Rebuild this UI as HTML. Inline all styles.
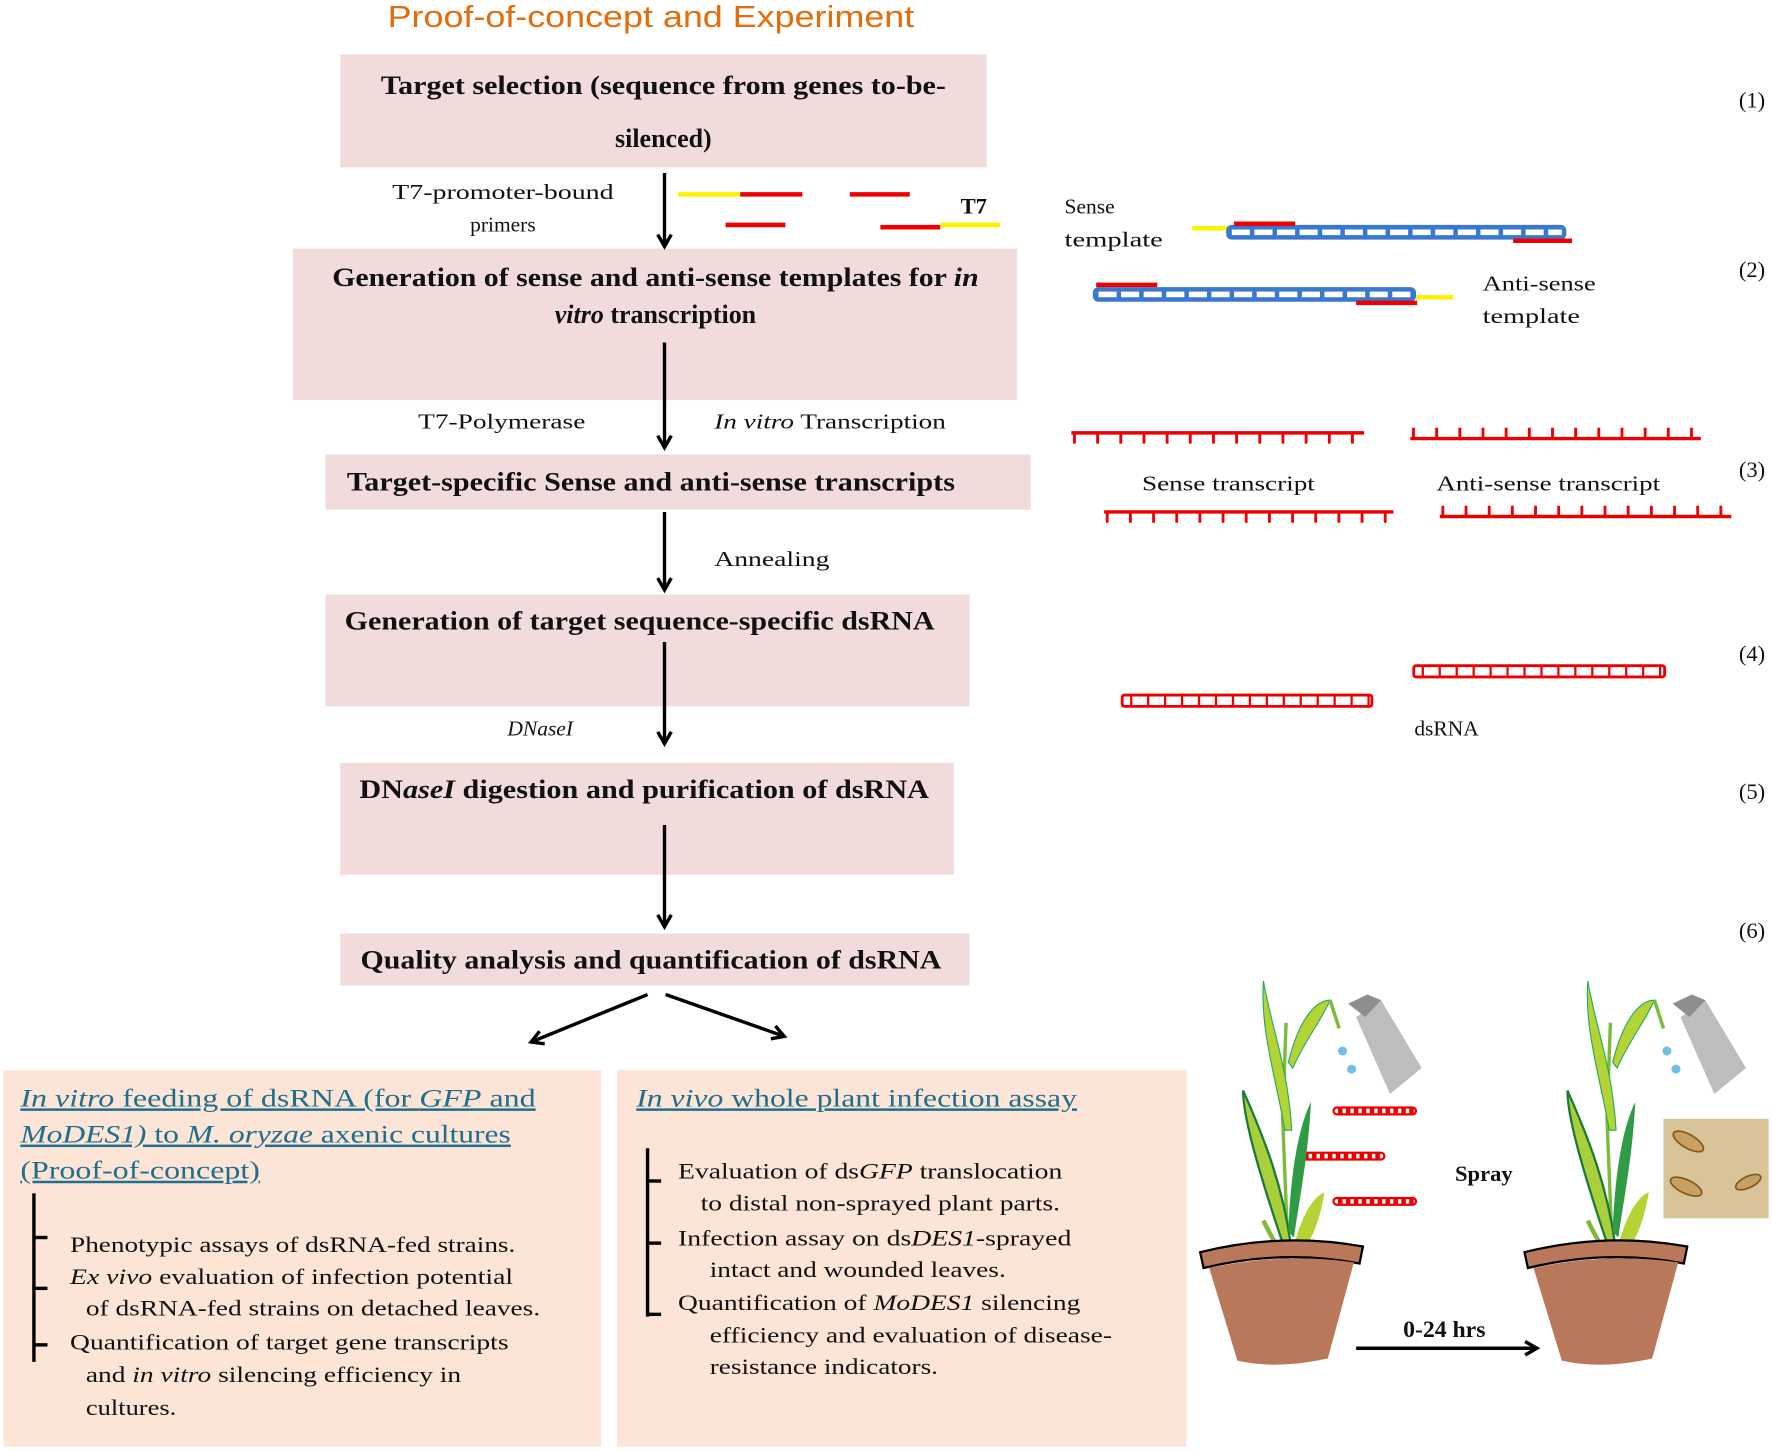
<!DOCTYPE html>
<html><head><meta charset="utf-8"><style>
html,body{margin:0;padding:0;background:#fff;}
svg{display:block;}
.s{font-family:"Liberation Serif",serif;}
.b{font-weight:bold;}
</style></head><body>
<svg width="1772" height="1450" viewBox="0 0 1568 1283" xmlns="http://www.w3.org/2000/svg">
<defs>
<marker id="ah" viewBox="0 0 10 10" refX="8" refY="5" markerWidth="5" markerHeight="5" orient="auto"><path d="M1,1 L8,5 L1,9" fill="none" stroke="#000" stroke-width="2"/></marker>
</defs>
<rect width="1568" height="1283" fill="#fff"/>
<text x="576" y="24" text-anchor="middle" font-family="Liberation Sans,sans-serif" font-size="27" fill="#E46C0A" textLength="466" lengthAdjust="spacingAndGlyphs">Proof-of-concept and Experiment</text>

<!-- boxes -->
<g fill="#F2DCDB">
<rect x="301" y="48" width="572" height="100"/>
<rect x="259" y="220" width="641" height="134"/>
<rect x="288" y="402" width="624" height="49"/>
<rect x="288" y="526" width="570" height="99"/>
<rect x="301" y="675" width="543" height="99"/>
<rect x="301" y="826" width="557" height="46"/>
</g>
<g class="s b" font-size="23" fill="#111" text-anchor="middle">
<text x="587" y="83" textLength="500" lengthAdjust="spacingAndGlyphs">Target selection (sequence from genes to-be-</text>
<text x="587" y="130">silenced)</text>
<text x="580" y="253" textLength="572" lengthAdjust="spacingAndGlyphs">Generation of sense and anti-sense templates for <tspan font-style="italic">in</tspan></text>
<text x="580" y="286"><tspan font-style="italic">vitro</tspan> transcription</text>
<text x="576" y="434" textLength="538" lengthAdjust="spacingAndGlyphs">Target-specific Sense and anti-sense transcripts</text>
<text x="566" y="557" textLength="522" lengthAdjust="spacingAndGlyphs">Generation of target sequence-specific dsRNA</text>
<text x="570" y="706" textLength="504" lengthAdjust="spacingAndGlyphs">DN<tspan font-style="italic">aseI</tspan> digestion and purification of dsRNA</text>
<text x="576" y="857" textLength="514" lengthAdjust="spacingAndGlyphs">Quality analysis and quantification of dsRNA</text>
</g>

<!-- arrows -->
<g stroke="#000" stroke-width="3" marker-end="url(#ah)" fill="none">
<line x1="588" y1="153" x2="588" y2="218"/>
<line x1="588" y1="303" x2="588" y2="396"/>
<line x1="588" y1="453" x2="588" y2="522"/>
<line x1="588" y1="568" x2="588" y2="658"/>
<line x1="588" y1="730" x2="588" y2="820"/>
<line x1="573" y1="880" x2="470" y2="922"/>
<line x1="589" y1="880" x2="694" y2="917"/>
<line x1="1200" y1="1193" x2="1360" y2="1193"/>
</g>

<g class="s" font-size="19" fill="#111">
<text x="445" y="176" text-anchor="middle" textLength="196" lengthAdjust="spacingAndGlyphs">T7-promoter-bound</text>
<text x="445" y="205" text-anchor="middle">primers</text>
<text x="444" y="379" text-anchor="middle" textLength="148" lengthAdjust="spacingAndGlyphs">T7-Polymerase</text>
<text x="632" y="379" textLength="205" lengthAdjust="spacingAndGlyphs"><tspan font-style="italic">In vitro</tspan> Transcription</text>
<text x="632" y="501" textLength="102" lengthAdjust="spacingAndGlyphs">Annealing</text>
<text x="478" y="651" text-anchor="middle" font-style="italic">DNaseI</text>
<text x="942" y="189">Sense</text>
<text x="942" y="218" textLength="87" lengthAdjust="spacingAndGlyphs">template</text>
<text x="1312" y="257" textLength="100" lengthAdjust="spacingAndGlyphs">Anti-sense</text>
<text x="1312" y="286" textLength="86" lengthAdjust="spacingAndGlyphs">template</text>
<text x="1087" y="434" text-anchor="middle" textLength="153" lengthAdjust="spacingAndGlyphs">Sense transcript</text>
<text x="1370" y="434" text-anchor="middle" textLength="198" lengthAdjust="spacingAndGlyphs">Anti-sense transcript</text>
<text x="1280" y="651" text-anchor="middle">dsRNA</text>
<text x="850" y="189" class="b" font-size="20">T7</text>
</g>
<g class="s" font-size="20" fill="#111" text-anchor="end">
<text x="1562" y="95">(1)</text>
<text x="1562" y="245">(2)</text>
<text x="1562" y="422">(3)</text>
<text x="1562" y="585">(4)</text>
<text x="1562" y="707">(5)</text>
<text x="1562" y="830">(6)</text>
</g>

<!-- primers -->
<g stroke-width="4">
<line x1="600" y1="172" x2="655" y2="172" stroke="#FFF200"/>
<line x1="655" y1="172" x2="710" y2="172" stroke="#E00"/>
<line x1="752" y1="172" x2="805" y2="172" stroke="#E00"/>
<line x1="642" y1="199" x2="695" y2="199" stroke="#E00"/>
<line x1="779" y1="201" x2="832" y2="201" stroke="#E00"/>
<line x1="832" y1="199" x2="885" y2="199" stroke="#FFF200"/>
</g>

<!-- templates -->
<g>
<line x1="1055" y1="202" x2="1086" y2="202" stroke="#FFF200" stroke-width="4"/>
<rect x="1086" y="200" width="299" height="11" rx="4" fill="#3A78D0" stroke="#3A78D0" stroke-width="2"/>
<line x1="1090" y1="205.5" x2="1382" y2="205.5" stroke="#fff" stroke-width="5" stroke-dasharray="16 4"/>
<line x1="1092" y1="198" x2="1146" y2="198" stroke="#E00" stroke-width="4"/>
<line x1="1339" y1="213" x2="1391" y2="213" stroke="#E00" stroke-width="4"/>

<rect x="968" y="255" width="284" height="11" rx="4" fill="#3A78D0" stroke="#3A78D0" stroke-width="2"/>
<line x1="972" y1="260.5" x2="1250" y2="260.5" stroke="#fff" stroke-width="5" stroke-dasharray="16 4"/>
<line x1="970" y1="252" x2="1024" y2="252" stroke="#E00" stroke-width="4"/>
<line x1="1200" y1="268" x2="1254" y2="268" stroke="#E00" stroke-width="4"/>
<line x1="1253" y1="263" x2="1286" y2="263" stroke="#FFF200" stroke-width="4"/>
</g>

<!-- transcripts -->
<g stroke="#E00" fill="none">
<line x1="948" y1="383" x2="1207" y2="383" stroke-width="3"/>
<line x1="949.5" y1="388" x2="1207" y2="388" stroke-width="9" stroke-dasharray="2.5 18"/>
<line x1="1248" y1="388" x2="1505" y2="388" stroke-width="3"/>
<line x1="1249.5" y1="383" x2="1505" y2="383" stroke-width="9" stroke-dasharray="2.5 18"/>
<line x1="977" y1="453" x2="1233" y2="453" stroke-width="3"/>
<line x1="978.5" y1="458" x2="1233" y2="458" stroke-width="9" stroke-dasharray="2.5 18"/>
<line x1="1274" y1="457" x2="1532" y2="457" stroke-width="3"/>
<line x1="1275.5" y1="452" x2="1532" y2="452" stroke-width="9" stroke-dasharray="2.5 18"/>
</g>

<!-- dsRNA -->
<g stroke="#E00" fill="#fff">
<rect x="1251" y="589" width="222" height="10" rx="2" stroke-width="2.5"/>
<line x1="1258" y1="594" x2="1470" y2="594" stroke-width="10" stroke-dasharray="2 13"/>
<rect x="993" y="615" width="221" height="10" rx="2" stroke-width="2.5"/>
<line x1="1000" y1="620" x2="1212" y2="620" stroke-width="10" stroke-dasharray="2 13"/>
<rect x="1180" y="980" width="73" height="6" rx="3" stroke-width="2"/>
<line x1="1184" y1="983" x2="1253" y2="983" stroke-width="6" stroke-dasharray="4 3"/>
<rect x="1150" y="1020" width="75" height="6" rx="3" stroke-width="2"/>
<line x1="1154" y1="1023" x2="1225" y2="1023" stroke-width="6" stroke-dasharray="4 3"/>
<rect x="1180" y="1060" width="73" height="6" rx="3" stroke-width="2"/>
<line x1="1184" y1="1063" x2="1253" y2="1063" stroke-width="6" stroke-dasharray="4 3"/>
</g>

<!-- bottom boxes -->
<rect x="3" y="947" width="529" height="333" fill="#FCE4D6"/>
<rect x="546" y="947" width="504" height="333" fill="#FCE4D6"/>
<g class="s" font-size="22" fill="#1F6E8C" text-decoration="underline">
<text x="18" y="979" textLength="456" lengthAdjust="spacingAndGlyphs"><tspan font-style="italic">In vitro</tspan> feeding of dsRNA (for <tspan font-style="italic">GFP</tspan> and</text>
<text x="18" y="1011" textLength="434" lengthAdjust="spacingAndGlyphs"><tspan font-style="italic">MoDES1)</tspan> to <tspan font-style="italic">M. oryzae</tspan> axenic cultures</text>
<text x="18" y="1043" textLength="212" lengthAdjust="spacingAndGlyphs">(Proof-of-concept)</text>
<text x="563" y="979" textLength="390" lengthAdjust="spacingAndGlyphs"><tspan font-style="italic">In vivo</tspan> whole plant infection assay</text>
</g>
<g stroke="#000" stroke-width="3">
<line x1="30" y1="1056" x2="30" y2="1205"/>
<line x1="30" y1="1095" x2="42" y2="1095"/><line x1="30" y1="1140" x2="42" y2="1140"/><line x1="30" y1="1190" x2="42" y2="1190"/>
<line x1="573" y1="1016" x2="573" y2="1165"/>
<line x1="573" y1="1045" x2="585" y2="1045"/><line x1="573" y1="1100" x2="585" y2="1100"/><line x1="573" y1="1163" x2="585" y2="1163"/>
</g>
<g class="s" font-size="20" fill="#111">
<text x="62" y="1108" textLength="394" lengthAdjust="spacingAndGlyphs">Phenotypic assays of dsRNA-fed strains.</text>
<text x="62" y="1136" textLength="392" lengthAdjust="spacingAndGlyphs"><tspan font-style="italic">Ex vivo</tspan> evaluation of infection potential</text>
<text x="76" y="1164" textLength="402" lengthAdjust="spacingAndGlyphs">of dsRNA-fed strains on detached leaves.</text>
<text x="62" y="1194" textLength="388" lengthAdjust="spacingAndGlyphs">Quantification of target gene transcripts</text>
<text x="76" y="1223" textLength="332" lengthAdjust="spacingAndGlyphs">and <tspan font-style="italic">in vitro</tspan> silencing efficiency in</text>
<text x="76" y="1252" textLength="80" lengthAdjust="spacingAndGlyphs">cultures.</text>
<text x="600" y="1043" textLength="340" lengthAdjust="spacingAndGlyphs">Evaluation of ds<tspan font-style="italic">GFP</tspan> translocation</text>
<text x="620" y="1071" textLength="318" lengthAdjust="spacingAndGlyphs">to distal non-sprayed plant parts.</text>
<text x="600" y="1102" textLength="348" lengthAdjust="spacingAndGlyphs">Infection assay on ds<tspan font-style="italic">DES1</tspan>-sprayed</text>
<text x="628" y="1130" textLength="262" lengthAdjust="spacingAndGlyphs">intact and wounded leaves.</text>
<text x="600" y="1159" textLength="356" lengthAdjust="spacingAndGlyphs">Quantification of <tspan font-style="italic">MoDES1</tspan>  silencing</text>
<text x="628" y="1188" textLength="356" lengthAdjust="spacingAndGlyphs">efficiency and evaluation of disease-</text>
<text x="628" y="1216" textLength="202" lengthAdjust="spacingAndGlyphs">resistance indicators.</text>
<text x="1313" y="1045" text-anchor="middle" class="b" font-size="20">Spray</text>
<text x="1278" y="1183" text-anchor="middle" class="b" font-size="21">0-24 hrs</text>
</g>

<!-- plants -->
<g id="p1">
<path d="M1140,1115 L1135,990 L1138,905" stroke="#7DBA3A" stroke-width="3" fill="none"/>
<path d="M1137,1000 C1128,950 1115,910 1118,868 C1124,905 1140,945 1143,1000 Z" fill="#B5D334" stroke="#2a6" stroke-width="1"/>
<path d="M1140,940 C1150,900 1165,885 1177,885 C1168,905 1155,920 1144,945 Z" fill="#B5D334" stroke="#2a6" stroke-width="1"/>
<path d="M1177,885 L1185,910" stroke="#7DBA3A" stroke-width="3"/>
<path d="M1135,1100 C1115,1040 1100,990 1100,965 C1120,1010 1135,1050 1142,1100 Z" fill="#A9CF3A" stroke="#1a7a3a" stroke-width="2"/>
<path d="M1140,1090 C1142,1040 1148,1000 1160,975 C1158,1020 1150,1060 1145,1095 Z" fill="#2F9C45"/>
<path d="M1143,1110 C1150,1080 1160,1060 1172,1055 C1168,1080 1160,1100 1150,1110 Z" fill="#B5D334"/>
<path d="M1118,1080 C1125,1095 1132,1105 1136,1115" stroke="#7DBA3A" stroke-width="4" fill="none"/>
<path d="M1062,1108 Q1135,1090 1206,1103 L1203,1118 Q1135,1105 1065,1122 Z" fill="#B9785A" stroke="#000" stroke-width="2"/>
<path d="M1070,1122 Q1135,1108 1198,1117 L1175,1202 Q1130,1212 1095,1204 Z" fill="#B9785A"/>
<path d="M1200,900 L1222,885 L1258,945 L1230,968 Z" fill="#BDBDBD"/>
<path d="M1193,888 L1210,880 L1222,885 L1208,900 Z" fill="#8E8E8E"/>
<circle cx="1188" cy="930" r="4" fill="#6FC0E8"/><circle cx="1196" cy="946" r="4" fill="#6FC0E8"/>
</g>
<use href="#p1" transform="translate(287,0)"/>
<rect x="1472" y="990" width="93" height="88" fill="#D9C497"/>
<g fill="#C9A060" stroke="#7a5a20" stroke-width="1.5">
<ellipse cx="1494" cy="1010" rx="15" ry="6" transform="rotate(30 1494 1010)"/>
<ellipse cx="1492" cy="1050" rx="15" ry="6" transform="rotate(25 1492 1050)"/>
<ellipse cx="1547" cy="1046" rx="12" ry="5" transform="rotate(-25 1547 1046)"/>
</g>
</svg>
</body></html>
